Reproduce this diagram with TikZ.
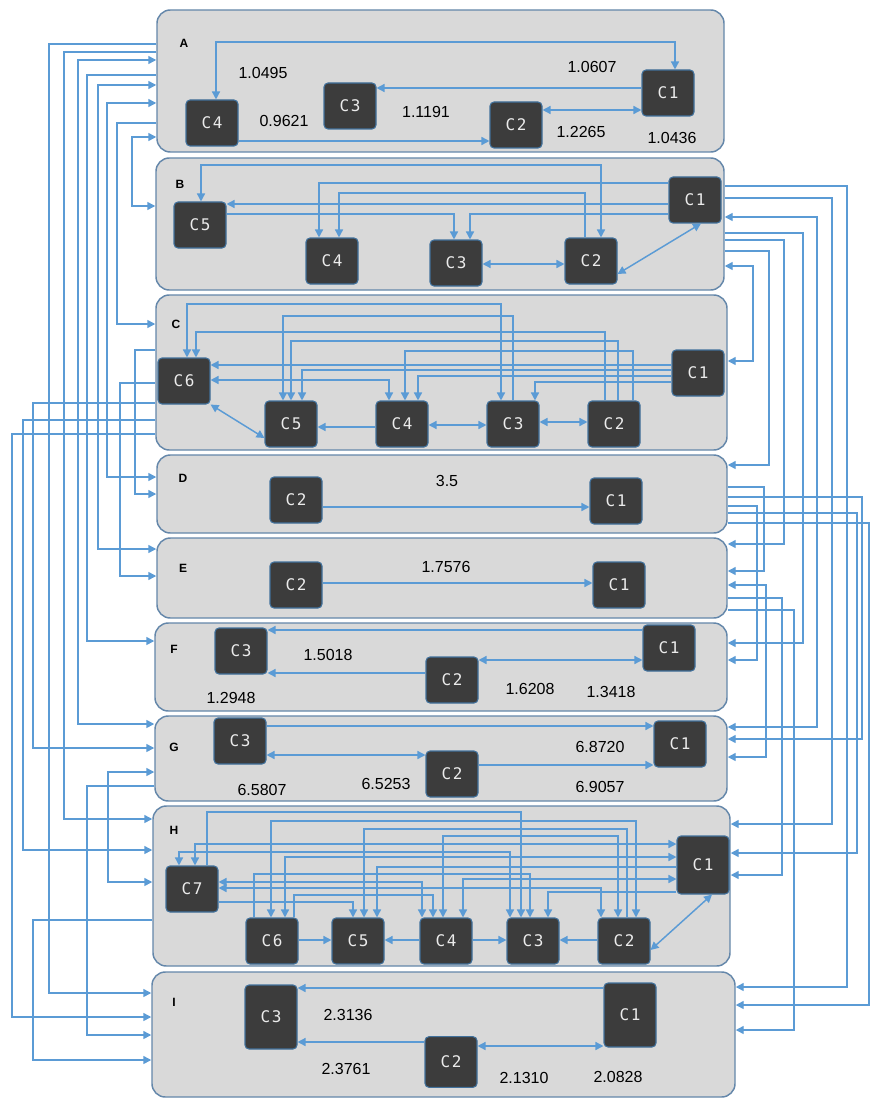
\documentclass[tikz,border=0pt]{standalone}
\usepackage{fontspec}
\setmainfont{Liberation Sans}
\newfontfamily\boxfont[LetterSpace=10]{DejaVu Sans Mono}
\usetikzlibrary{arrows.meta}
\definecolor{conn}{RGB}{91,155,213}
\definecolor{pfill}{RGB}{217,217,217}
\definecolor{pdraw}{RGB}{100,135,170}
\definecolor{bfill}{RGB}{60,60,60}
\definecolor{bdraw}{RGB}{65,113,156}
\definecolor{btext}{RGB}{235,235,235}
\begin{document}
\begin{tikzpicture}[x=0.75pt,y=-0.75pt,
 panel/.style 2 args={draw=pdraw, line width=1.1pt, fill=pfill, rounded corners=10pt, minimum width=#1*0.75pt, minimum height=#2*0.75pt, inner sep=0pt},
 cbox/.style={draw=bdraw, line width=0.8pt, fill=bfill, rounded corners=3pt, minimum width=39pt, minimum height=34.5pt, inner sep=0pt, text=btext, font=\boxfont\fontsize{12}{12}\selectfont},
 num/.style={font=\fontsize{12}{12}\selectfont, inner sep=0pt},
 plabel/.style={font=\bfseries\fontsize{9}{9}\selectfont, inner sep=0pt},
 link/.style={draw=conn, line width=1.1pt, -{Triangle[length=6pt,width=6pt]}},
 blink/.style={draw=conn, line width=1.1pt, {Triangle[length=6pt,width=6pt]}-{Triangle[length=6pt,width=6pt]}},
]
\useasboundingbox (0,0) rectangle (870,1098);
\fill[white] (0,0) rectangle (870,1098);
% panels
\node[panel={567}{142}] (pA) at (440.5,81) {};
\node[panel={568}{132}] (pB) at (440,224) {};
\node[panel={571}{155}] (pC) at (441.5,372.5) {};
\node[panel={570}{78}] (pD) at (442,494) {};
\node[panel={570}{80}] (pE) at (442,578) {};
\node[panel={572}{88}] (pF) at (441,667) {};
\node[panel={572}{85}] (pG) at (441,758.5) {};
\node[panel={577}{160}] (pH) at (441.5,886) {};
\node[panel={583}{125}] (pI) at (443.5,1034.5) {};
% boxes
\node[cbox] (a4) at (212,123) {C4};
\node[cbox] (a3) at (350,106) {C3};
\node[cbox] (a2) at (516,125) {C2};
\node[cbox] (a1) at (668,93) {C1};
\node[cbox] (b5) at (200,225) {C5};
\node[cbox] (b4) at (332,261) {C4};
\node[cbox] (b3) at (456,263) {C3};
\node[cbox] (b2) at (591,261) {C2};
\node[cbox] (b1) at (695,200) {C1};
\node[cbox] (c6) at (184,381) {C6};
\node[cbox] (c5) at (291,424) {C5};
\node[cbox] (c4) at (402,424) {C4};
\node[cbox] (c3) at (513,424) {C3};
\node[cbox] (c2) at (614,424) {C2};
\node[cbox] (c1) at (698,373) {C1};
\node[cbox] (d2) at (296,500) {C2};
\node[cbox] (d1) at (616,501) {C1};
\node[cbox] (e2) at (296,585) {C2};
\node[cbox] (e1) at (619,585) {C1};
\node[cbox] (f3) at (241,651) {C3};
\node[cbox] (f1) at (669,648) {C1};
\node[cbox] (f2) at (452,680) {C2};
\node[cbox] (g3) at (240,741) {C3};
\node[cbox] (g1) at (680,744) {C1};
\node[cbox] (g2) at (452,774) {C2};
\node[cbox] (h7) at (192,889) {C7};
\node[cbox] (h6) at (272,941) {C6};
\node[cbox] (h5) at (358,941) {C5};
\node[cbox] (h4) at (446,941) {C4};
\node[cbox] (h3) at (533,941) {C3};
\node[cbox] (h2) at (624,941) {C2};
\node[cbox, minimum height=43.5pt] (h1) at (703,865) {C1};
\node[cbox, minimum height=48pt] (i3) at (271,1017) {C3};
\node[cbox, minimum height=48pt] (i1) at (630,1015) {C1};
\node[cbox, minimum height=38pt] (i2) at (451,1062) {C2};
% panel A links
\draw[blink] (216,0|-a4.north) |- (675,42) -- (675,0|-a1.north);
\draw[link] (a1.west|-0,88) -- (a3.east|-0,88);
\draw[blink] (a2.east|-0,110) -- (a1.west|-0,110);
\draw[link] (a4.east|-0,141) -- (a2.west|-0,141);
% panel B links
\draw[blink] (201,0|-b5.north) |- (601,165) -- (601,0|-b2.north);
\draw[link] (b1.west|-0,183) -| (319,0|-b4.north);
\draw[link] (585,0|-b2.north) |- (339,193) -- (339,0|-b4.north);
\draw[link] (b1.west|-0,204) -- (b5.east|-0,204);
\draw[link] (b5.east|-0,214) -| (454,0|-b3.north);
\draw[link] (b1.west|-0,214) -| (470,0|-b3.north);
\draw[blink] (b3.east|-0,264) -- (b2.west|-0,264);
\draw[blink] (b2.east|-0,274) -- (701,0|-b1.south);
% panel C links
\draw[blink] (187,0|-c6.north) |- (501,304) -- (501,0|-c3.north);
\draw[link] (513,0|-c3.north) |- (283,316) -- (283,0|-c5.north);
\draw[link] (605,0|-c2.north) |- (196,332) -- (196,0|-c6.north);
\draw[link] (618,0|-c2.north) |- (291,341) -- (291,0|-c5.north);
\draw[link] (633,0|-c2.north) |- (405,351) -- (405,0|-c4.north);
\draw[link] (c1.west|-0,365) -- (c6.east|-0,365);
\draw[link] (c1.west|-0,370) -| (302,0|-c5.north);
\draw[blink] (c6.east|-0,380) -| (389,0|-c4.north);
\draw[link] (c1.west|-0,376) -| (418,0|-c4.north);
\draw[link] (c1.west|-0,382) -| (535,0|-c3.north);
\draw[blink] (c6.south east) -- (c5.west|-0,438);
\draw[link] (c4.west|-0,427) -- (c5.east|-0,427);
\draw[blink] (c4.east|-0,425) -- (c3.west|-0,425);
\draw[blink] (c3.east|-0,422) -- (c2.west|-0,422);
% D, E
\draw[link] (d2.east|-0,507) -- (d1.west|-0,507);
\draw[link] (e2.east|-0,583) -- (e1.west|-0,583);
% F
\draw[link] (f1.west|-0,630) -- (f3.east|-0,630);
\draw[blink] (f2.east|-0,660) -- (f1.west|-0,660);
\draw[link] (f2.west|-0,673) -- (f3.east|-0,673);
% G
\draw[link] (g3.east|-0,726) -- (g1.west|-0,726);
\draw[blink] (g3.east|-0,755) -- (g2.west|-0,755);
\draw[link] (g2.east|-0,765) -- (g1.west|-0,765);
% H
\draw[link] (207,0|-h7.north) |- (521,812) -- (521,0|-h3.north);
\draw[blink] (271,0|-h6.north) |- (636,821) -- (636,0|-h2.north);
\draw[link] (627,0|-h2.north) |- (364,829) -- (364,0|-h5.north);
\draw[blink] (618,0|-h2.north) |- (443,836) -- (443,0|-h4.north);
\draw[blink] (195,0|-h7.north) |- (h1.west|-0,844);
\draw[blink] (179,0|-h7.north) |- (510,852) -- (510,0|-h3.north);
\draw[blink] (h1.west|-0,857) -| (285,0|-h6.north);
\draw[link] (h1.west|-0,867) -| (377,0|-h5.north);
\draw[link] (254,0|-h6.north) |- (530,874) -- (530,0|-h3.north);
\draw[blink] (h1.west|-0,879) -| (463,0|-h4.north);
\draw[blink] (h7.east|-0,882) -| (422,0|-h4.north);
\draw[blink] (h7.east|-0,888) -| (601,0|-h2.north);
\draw[link] (h1.west|-0,892) -| (548,0|-h3.north);
\draw[link] (294,0|-h6.north) |- (433,895) -- (433,0|-h4.north);
\draw[link] (h7.east|-0,902) -| (353,0|-h5.north);
\draw[link] (h6.east|-0,940) -- (h5.west|-0,940);
\draw[link] (h4.west|-0,940) -- (h5.east|-0,940);
\draw[link] (h4.east|-0,940) -- (h3.west|-0,940);
\draw[link] (h2.west|-0,940) -- (h3.east|-0,940);
\draw[blink] (h2.east|-0,950) -- (712,0|-h1.south);
% I
\draw[link] (i1.west|-0,988) -- (i3.east|-0,988);
\draw[link] (i2.west|-0,1042) -- (i3.east|-0,1042);
\draw[blink] (i2.east|-0,1046) -- (i1.west|-0,1046);
% left bundle
\draw[link] (pA.west|-0,44) -- (49,44) -- (49,993) -- (pI.west|-0,993);
\draw[link] (pA.west|-0,52) -- (64,52) -- (64,819) -- (pH.west|-0,819);
\draw[blink] (pA.west|-0,60) -- (78,60) -- (78,724) -- (pG.west|-0,724);
\draw[link] (pA.west|-0,75) -- (87,75) -- (87,641) -- (pF.west|-0,641);
\draw[blink] (pA.west|-0,85) -- (98,85) -- (98,549) -- (pE.west|-0,549);
\draw[blink] (pA.west|-0,103) -- (107,103) -- (107,477) -- (pD.west|-0,477);
\draw[link] (pA.west|-0,123) -- (117,123) -- (117,324) -- (pC.west|-0,324);
\draw[blink] (pA.west|-0,137) -- (132,137) -- (132,206) -- (pB.west|-0,206);
\draw[link] (pC.west|-0,350) -- (135,350) -- (135,494) -- (pD.west|-0,494);
\draw[link] (pC.west|-0,383) -- (120,383) -- (120,576) -- (pE.west|-0,576);
\draw[link] (pC.west|-0,403) -- (33,403) -- (33,748) -- (pG.west|-0,748);
\draw[link] (pC.west|-0,420) -- (23,420) -- (23,850) -- (pH.west|-0,850);
\draw[link] (pC.west|-0,434) -- (12,434) -- (12,1017) -- (pI.west|-0,1017);
\draw[blink] (pG.west|-0,772) -- (108,772) -- (108,882) -- (pH.west|-0,882);
\draw[link] (pG.west|-0,786) -- (87,786) -- (87,1035) -- (pI.west|-0,1035);
\draw[link] (pH.west|-0,920) -- (33,920) -- (33,1060) -- (pI.west|-0,1060);
% right bundle
\draw[link] (pB.east|-0,186) -- (847,186) -- (847,987) -- (pI.east|-0,987);
\draw[link] (pB.east|-0,198) -- (832,198) -- (832,824) -- (pH.east|-0,824);
\draw[blink] (pB.east|-0,217) -- (817,217) -- (817,727) -- (pG.east|-0,727);
\draw[link] (pB.east|-0,233) -- (803,233) -- (803,643) -- (pF.east|-0,643);
\draw[link] (pB.east|-0,240) -- (784,240) -- (784,544) -- (pE.east|-0,544);
\draw[link] (pB.east|-0,251) -- (769,251) -- (769,465) -- (pD.east|-0,465);
\draw[blink] (pB.east|-0,266) -- (753,266) -- (753,361) -- (pC.east|-0,361);
\draw[link] (pD.east|-0,487) -- (764,487) -- (764,571) -- (pE.east|-0,571);
\draw[link] (pD.east|-0,497) -- (862,497) -- (862,739) -- (pG.east|-0,739);
\draw[link] (pD.east|-0,506) -- (757,506) -- (757,660) -- (pF.east|-0,660);
\draw[link] (pD.east|-0,513) -- (857,513) -- (857,853) -- (pH.east|-0,853);
\draw[link] (pD.east|-0,523) -- (869,523) -- (869,1005) -- (pI.east|-0,1005);
\draw[link] (pE.east|-0,598) -- (782,598) -- (782,875) -- (pH.east|-0,875);
\draw[link] (pE.east|-0,610) -- (794,610) -- (794,1030) -- (pI.east|-0,1030);
\draw[blink] (pE.east|-0,585) -- (766,585) -- (766,757) -- (pG.east|-0,757);
% panel letters
\node[plabel] (lA) at (184,43) {A};
\node[plabel] (lB) at (180,184) {B};
\node[plabel] (lC) at (176,324) {C};
\node[plabel] (lD) at (183,478) {D};
\node[plabel] (lE) at (183,568) {E};
\node[plabel] (lF) at (174,649) {F};
\node[plabel] (lG) at (174,747) {G};
\node[plabel] (lH) at (174,830) {H};
\node[plabel] (lI) at (174,1002) {I};
% numbers
\node[num] (nA1) at (263,73) {1.0495};
\node[num] (nA2) at (592,67) {1.0607};
\node[num] (nA3) at (284,121) {0.9621};
\node[num] (nA4) at (426,112) {1.1191};
\node[num] (nA5) at (581,132) {1.2265};
\node[num] (nA6) at (672,138) {1.0436};
\node[num] (nD1) at (447,481) {3.5};
\node[num] (nE1) at (446,567) {1.7576};
\node[num] (nF1) at (328,655) {1.5018};
\node[num] (nF2) at (231,698) {1.2948};
\node[num] (nF3) at (530,689) {1.6208};
\node[num] (nF4) at (611,692) {1.3418};
\node[num] (nG1) at (600,747) {6.8720};
\node[num] (nG2) at (262,790) {6.5807};
\node[num] (nG3) at (386,784) {6.5253};
\node[num] (nG4) at (600,787) {6.9057};
\node[num] (nI1) at (348,1015) {2.3136};
\node[num] (nI2) at (346,1069) {2.3761};
\node[num] (nI3) at (524,1078) {2.1310};
\node[num] (nI4) at (618,1077) {2.0828};
\end{tikzpicture}
\end{document}
